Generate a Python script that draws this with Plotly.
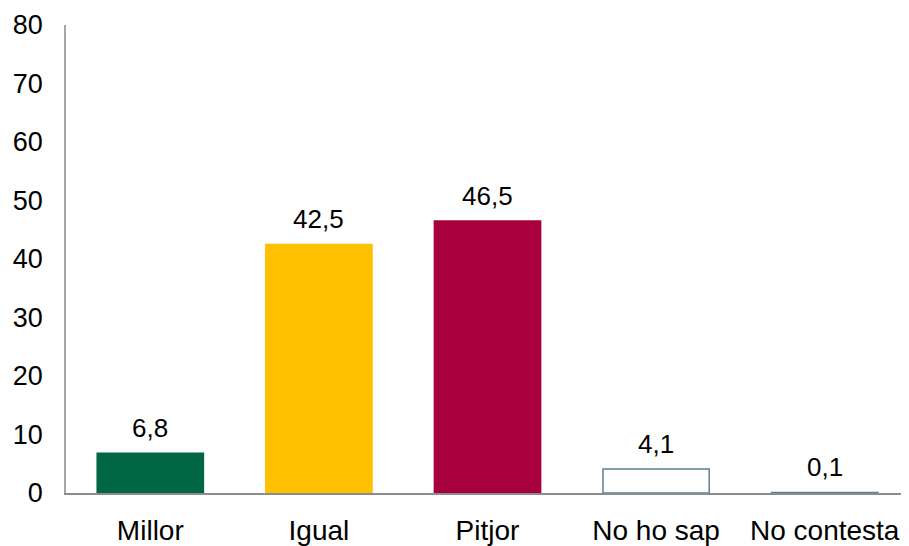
import plotly.graph_objects as go

categories = ["Millor", "Igual", "Pitjor", "No ho sap", "No contesta"]
values = [6.8, 42.5, 46.5, 4.1, 0.1]
bar_colors = ["#006643", "#FFC000", "#A8003C", "#FFFFFF", "#FFFFFF"]
line_colors = ["#006643", "#FFC000", "#A8003C", "#5E7F92", "#5E7F92"]
y_ticks = [0, 10, 20, 30, 40, 50, 60, 70, 80]

fig = go.Figure(go.Bar(
    x=categories,
    y=values,
    marker=dict(color=bar_colors, line=dict(color=line_colors, width=1.5)),
    width=0.63,
))

# value labels, Catalan decimal comma
for cat, v in zip(categories, values):
    fig.add_annotation(
        x=cat, y=v, text=f"{v:.1f}".replace(".", ","),
        showarrow=False, yanchor="bottom", yshift=8,
        font=dict(size=26, color="#000000"),
    )

# page body keeps its 8px margin, so the figure is 8px smaller
fig.update_layout(
    width=901,
    height=538,
    margin=dict(l=58, r=0, t=17, b=53),
    plot_bgcolor="white",
    paper_bgcolor="white",
    font=dict(family="Liberation Sans, Arial, sans-serif", size=26, color="#000000"),
    showlegend=False,
    xaxis=dict(
        showline=True, linecolor="#8C8C8C", linewidth=2,
        showgrid=False, ticks="", tickfont=dict(size=28),
        automargin=False, ticklabelstandoff=11,
    ),
    yaxis=dict(
        range=[0, 80], tickvals=y_ticks,
        showline=True, linecolor="#A6A6A6", linewidth=1.5,
        showgrid=False, zeroline=False, ticks="",
        tickfont=dict(size=27), ticklabelstandoff=16,
        automargin=False,
    ),
)

fig.write_html("out.html")
